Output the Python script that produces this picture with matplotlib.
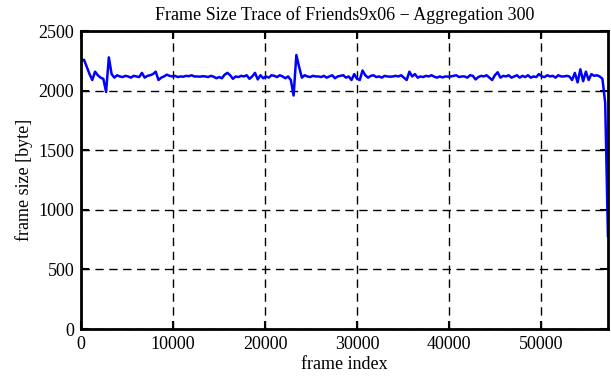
import numpy as np
import matplotlib
matplotlib.use('Agg')
import matplotlib.pyplot as plt

# frame size trace, one value per 300 frames
seg1 = [2250, 2260, 2200, 2140, 2090, 2160, 2130, 2110, 2100, 1990,
        2280, 2140, 2110, 2130, 2120, 2115, 2125, 2120, 2110, 2125,
        2120, 2115, 2150, 2110, 2125, 2130, 2140, 2160, 2090, 2110,
        2120, 2135, 2125, 2120]
seg2 = [2125, 2115, 2120, 2118, 2125, 2122, 2130, 2120, 2120, 2118,
        2122, 2120, 2115, 2125, 2118, 2105, 2115, 2105, 2135, 2150,
        2130, 2100, 2120, 2115, 2125, 2120, 2130, 2100, 2120, 2150,
        2095, 2130, 2105]
seg3 = [2120, 2110, 2130, 2125, 2115, 2130, 2120, 2105, 2120, 2090,
        1960, 2300, 2200, 2110, 2130, 2120, 2115, 2125, 2120, 2120,
        2115, 2125, 2110, 2120, 2130, 2105, 2120, 2125, 2130, 2110,
        2120, 2090, 2140, 2100]
seg4 = [2090, 2170, 2130, 2110, 2125, 2130, 2115, 2120, 2110, 2125,
        2120, 2118, 2120, 2125, 2120, 2130, 2110, 2090, 2160, 2120,
        2140, 2110, 2120, 2115, 2125, 2120, 2130, 2118, 2110, 2120,
        2112, 2120, 2118]
seg5 = [2120, 2125, 2130, 2115, 2120, 2120, 2110, 2130, 2125, 2095,
        2115, 2125, 2120, 2130, 2110, 2090, 2130, 2155, 2110, 2125,
        2120, 2130, 2110, 2120, 2130, 2110, 2125, 2115, 2130, 2110,
        2120, 2115, 2140]
seg6 = [2120, 2115, 2130, 2120, 2125, 2110, 2130, 2120, 2120, 2125,
        2120, 2090, 2150, 2070, 2180, 2080, 2160, 2090, 2140, 2125,
        2130, 2120, 2100, 1900, 780]

frame_size = np.array(seg1 + seg2 + seg3 + seg4 + seg5 + seg6)
aggregation = 300
frame_index = np.arange(len(frame_size)) * aggregation

plt.rcParams['font.family'] = ['Liberation Serif', 'DejaVu Serif']

fig = plt.figure(figsize=(6.11, 3.80), dpi=100)
ax = fig.add_axes([0.133, 0.134, 0.862, 0.784])

ax.plot(frame_index, frame_size, color='#0000ff', linewidth=1.8)

ax.set_xlim(0, frame_index[-1])
ax.set_ylim(0, 2500)
ax.set_xticks(np.arange(0, 50001, 10000))
ax.set_yticks(np.arange(0, 2501, 500))
ax.grid(True, color='black', linestyle=(0, (6, 4)), linewidth=1.0)
ax.tick_params(direction='in', top=True, right=True, length=6, width=1.5,
               labelsize=13, pad=5)
for sp in ax.spines.values():
    sp.set_linewidth(2)

ax.set_xlabel('frame index', fontsize=13, labelpad=2)
ax.set_ylabel('frame size [byte]', fontsize=13, labelpad=4)
ax.set_title('Frame Size Trace of Friends9x06 \u2212 Aggregation 300', fontsize=13, pad=8)

plt.savefig('out.png', dpi=100)
